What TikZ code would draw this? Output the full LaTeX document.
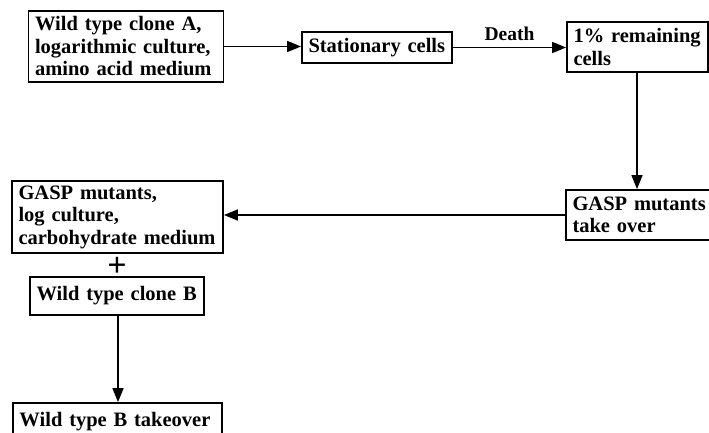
\documentclass[tikz,border=0pt]{standalone}
\usepackage{fontspec}
\setmainfont{Liberation Serif}
\usetikzlibrary{arrows.meta}
\begin{document}
\begin{tikzpicture}[x=1pt,y=-1pt,
  box/.style={draw=black, line width=1.8pt, inner xsep=6.5pt, inner ysep=0pt,
    font=\fontsize{20.5}{22.5}\selectfont\bfseries, align=left},
  conn/.style={line width=1.5pt, -{Triangle[length=14pt,width=11pt]}}]
\useasboundingbox (0,0) rectangle (709,432);
\node[box, minimum width=195pt, minimum height=71pt, text width=182pt] (a) at (126,46.5)
  {\mbox{Wild type clone A,}\\\mbox{logarithmic culture,}\\\mbox{amino acid medium}};
\node[box, minimum width=150pt, minimum height=31pt, text width=137pt] (st) at (377,47.5)
  {\mbox{Stationary cells}};
\node[box, minimum width=141pt, minimum height=50pt, text width=128pt] (rem) at (637.5,47)
  {\mbox{1\% remaining}\\\mbox{cells}};
\node[box, minimum width=154pt, minimum height=50pt, text width=141pt] (tk) at (643,215)
  {\mbox{GASP mutants}\\\mbox{take over}};
\node[box, minimum width=211pt, minimum height=72pt, text width=198pt] (gm) at (117.5,217)
  {\mbox{GASP mutants,}\\\mbox{log culture,}\\\mbox{carbohydrate medium}};
\node[font=\fontsize{34}{34}\selectfont\bfseries, inner sep=0pt] (plus) at (117,267) {+};
\node[box, minimum width=174pt, minimum height=38pt, text width=161pt] (cb) at (117,296)
  {\mbox{Wild type clone B}};
\node[box, minimum width=209pt, minimum height=37pt, text width=196pt] (bt) at (117.5,421.5)
  {\mbox{Wild type B takeover}};
\draw[conn] (a.east) -- (a.east -| st.west);
\draw[conn] (st.east) -- (st.east -| rem.west)
  node[midway, above=3pt, font=\fontsize{19.5}{19.5}\selectfont\bfseries] (death) {Death};
\draw[conn] (rem.south -| 637,0) -- (tk.north -| 637,0);
\draw[conn] (tk.west) -- (tk.west -| gm.east);
\draw[conn] (cb.south -| 118,0) -- (bt.north -| 118,0);
\end{tikzpicture}
\end{document}
